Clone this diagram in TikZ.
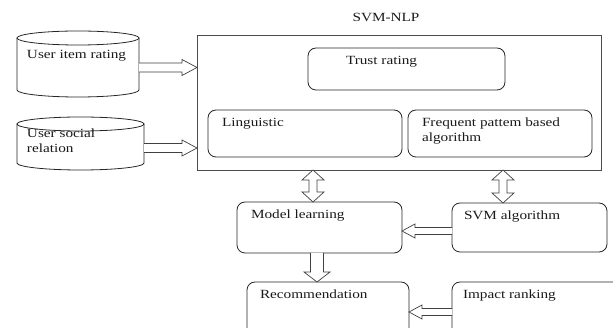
\documentclass[tikz,border=0pt]{standalone}
\usepackage{fontspec}
\setmainfont{Liberation Serif}[FakeStretch=1.22]
\usetikzlibrary{calc}
% block arrows: #1 shaft half width, #2 head half width, #3 head length, #4 from, #5 to
\newcommand\arrRight[5]{\draw[blockarr] let \p1=(#4), \p2=(#5) in
  (\x1,\y1+#1) -- (\x2-#3,\y1+#1) -- (\x2-#3,\y1+#2) -- (\x2,\y1) -- (\x2-#3,\y1-#2) -- (\x2-#3,\y1-#1) -- (\x1,\y1-#1);}
\newcommand\arrLeft[5]{\draw[blockarr] let \p1=(#4), \p2=(#5) in
  (\x1,\y1+#1) -- (\x2+#3,\y1+#1) -- (\x2+#3,\y1+#2) -- (\x2,\y1) -- (\x2+#3,\y1-#2) -- (\x2+#3,\y1-#1) -- (\x1,\y1-#1);}
\newcommand\arrDown[5]{\draw[blockarr] let \p1=(#4), \p2=(#5) in
  (\x1+#1,\y1) -- (\x1+#1,\y2+#3) -- (\x1+#2,\y2+#3) -- (\x1,\y2) -- (\x1-#2,\y2+#3) -- (\x1-#1,\y2+#3) -- (\x1-#1,\y1);}
\newcommand\arrUpDown[5]{\draw[blockarr] let \p1=(#4), \p2=(#5) in
  (\x1+#1,\y1-#3) -- (\x1+#1,\y2+#3) -- (\x1+#2,\y2+#3) -- (\x1,\y2) -- (\x1-#2,\y2+#3) -- (\x1-#1,\y2+#3)
  -- (\x1-#1,\y1-#3) -- (\x1-#2,\y1-#3) -- (\x1,\y1) -- (\x1+#2,\y1-#3) -- cycle;}
\newcommand\lblfont{\fontsize{12.5}{15}\selectfont}
\begin{document}
\begin{tikzpicture}[x=1pt,y=-1pt,
  every node/.style={inner sep=0pt, outer sep=0pt},
  box/.style={draw=black!85, line width=0.8pt, rounded corners=8pt, anchor=north west},
  mainbox/.style={draw=black!70, line width=0.9pt, anchor=north west},
  area/.style={anchor=north west},
  txt/.style={anchor=base west, font=\lblfont, text=black!90},
  blockarr/.style={draw=black!75, line width=0.7pt, fill=white, line join=miter},
  cylline/.style={draw=black!85, line width=0.8pt}]
\useasboundingbox (0,0) rectangle (613,328);
\clip (0,0) rectangle (613,328);

% title
\node[anchor=base, font=\fontsize{12.5}{14}\selectfont, text=black!90] (title) at (386,22) {SVM-NLP};

% main box
\node[mainbox, minimum width=404pt, minimum height=135pt] (main) at (197,35) {};
\node[box, minimum width=197pt, minimum height=42pt] (trust) at (308,48) {};
\node[txt] (trustt) at (346,65) {Trust rating};
\node[box, minimum width=194pt, minimum height=47pt] (ling) at (208,110) {};
\node[txt] (lingt) at (222,127) {Linguistic};
\node[box, minimum width=184pt, minimum height=47pt] (freq) at (408,110) {};
\node[txt] (freqt1) at (422,127) {Frequent pattem based};
\node[txt] (freqt2) at (422,142) {algorithm};

% cylinders
\node[area, minimum width=122pt, minimum height=66pt] (cyl1) at (17,31) {};
\draw[cylline] ($(cyl1.north)+(0,7)$) ellipse [x radius=61pt, y radius=7pt];
\draw[cylline] ($(cyl1.north west)+(0,7)$) -- ++(0,52) arc[start angle=180, end angle=360, x radius=61pt, y radius=7pt] -- ++(0,-52);
\node[txt] (cyl1t) at (27,59) {User item rating};

\node[area, minimum width=127pt, minimum height=53pt] (cyl2) at (17,117) {};
\draw[cylline] ($(cyl2.north)+(0,7)$) ellipse [x radius=63.5pt, y radius=7pt];
\draw[cylline] ($(cyl2.north west)+(0,7)$) -- ++(0,39) arc[start angle=180, end angle=360, x radius=63.5pt, y radius=7pt] -- ++(0,-39);
\node[txt] (cyl2t1) at (27,138) {User social};
\node[txt] (cyl2t2) at (27,153) {relation};

% lower boxes
\node[box, minimum width=165pt, minimum height=51pt] (model) at (237,202) {};
\node[txt] (modelt) at (251,219) {Model learning};
\node[box, minimum width=155pt, minimum height=49pt] (svm) at (452,203) {};
\node[txt] (svmt) at (464,220) {SVM algorithm};
\node[box, minimum width=162pt, minimum height=60pt] (rec) at (247,282) {};
\node[txt] (rect) at (260,299) {Recommendation};
\node[box, minimum width=175pt, minimum height=60pt] (imp) at (452,282) {};
\node[txt] (impt) at (463,299) {Impact ranking};

% arrows
\arrRight{4.5pt}{8pt}{15pt}{[yshift=-3.5pt]cyl1.east}{main.west}
\arrRight{4.5pt}{8pt}{15pt}{[yshift=-4.5pt]cyl2.east}{main.west}
\arrUpDown{4pt}{11pt}{10pt}{313,0 |- main.south}{313,0 |- model.north}
\arrUpDown{4pt}{11pt}{10pt}{503,0 |- main.south}{503,0 |- svm.north}
\arrLeft{3.5pt}{7pt}{13pt}{[yshift=-3.5pt]svm.west}{model.east}
\arrDown{6.5pt}{13pt}{10pt}{317,0 |- model.south}{317,0 |- rec.north}
\arrLeft{3.5pt}{7pt}{13pt}{imp.west}{rec.east}
\end{tikzpicture}
\end{document}
